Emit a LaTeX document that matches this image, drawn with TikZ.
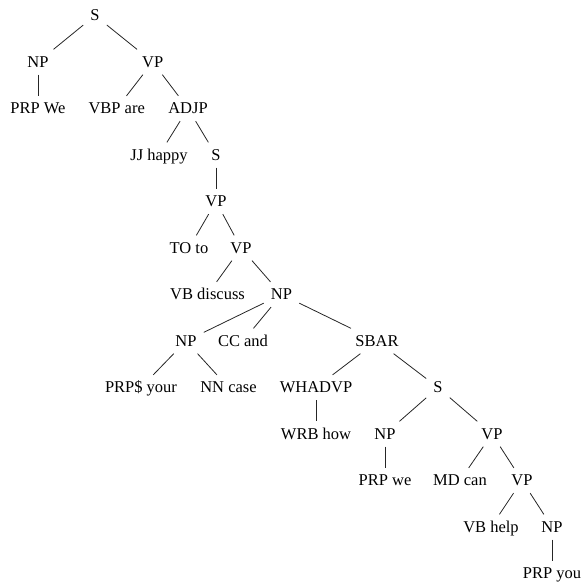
\documentclass[tikz,border=0pt]{standalone}
\usepackage{fontspec}
\setmainfont{Liberation Serif}
\begin{document}
\begin{tikzpicture}[x=1pt,y=-1pt,
  lbl/.style={inner xsep=7pt,inner ysep=7pt,text height=10.9pt,text depth=0pt,
    font=\fontsize{16.5}{19}\selectfont},
  br/.style={line width=0.8pt,draw=black!85}]
\useasboundingbox (0,0) rectangle (583,582);
% level rows
\def\ya{15.5}\def\yb{62}\def\yc{108.5}\def\yd{155}\def\ye{201.5}\def\yf{248}
\def\yg{294.5}\def\yh{341}\def\yi{387.5}\def\yj{434}\def\yk{480.5}\def\yl{527}\def\ym{573.5}
\node[lbl] (s0) at (95,\ya) {S};
\node[lbl] (np1) at (38,\yb) {NP};
\node[lbl] (vp1) at (152.7,\yb) {VP};
\node[lbl] (prpWe) at (38,\yc) {PRP We};
\node[lbl] (vbp) at (116.7,\yc) {VBP are};
\node[lbl] (adjp) at (188,\yc) {ADJP};
\node[lbl] (jj) at (159,\yd) {JJ happy};
\node[lbl] (s1) at (216,\yd) {S};
\node[lbl] (vp2) at (216,\ye) {VP};
\node[lbl] (to) at (189,\yf) {TO to};
\node[lbl] (vp3) at (241,\yf) {VP};
\node[lbl] (vb1) at (207.5,\yg) {VB discuss};
\node[lbl] (np2) at (281.5,\yg) {NP};
\node[lbl] (np3) at (186,\yh) {NP};
\node[lbl] (cc) at (243,\yh) {CC and};
\node[lbl] (sbar) at (377,\yh) {SBAR};
\node[lbl] (prps) at (141,\yi) {PRP\$ your};
\node[lbl] (nn) at (228.5,\yi) {NN case};
\node[lbl] (whadvp) at (316,\yi) {WHADVP};
\node[lbl] (s2) at (438,\yi) {S};
\node[lbl] (wrb) at (316,\yj) {WRB how};
\node[lbl] (np4) at (385,\yj) {NP};
\node[lbl] (vp4) at (492,\yj) {VP};
\node[lbl] (prpwe) at (385,\yk) {PRP we};
\node[lbl] (md) at (460,\yk) {MD can};
\node[lbl] (vp5) at (522,\yk) {VP};
\node[lbl] (vb2) at (491,\yl) {VB help};
\node[lbl] (np5) at (552,\yl) {NP};
\node[lbl] (prpyou) at (552,\ym) {PRP you};
% branches
\foreach \p/\c in {s0/np1,s0/vp1,np1/prpWe,vp1/vbp,vp1/adjp,adjp/jj,adjp/s1,
  s1/vp2,vp2/to,vp2/vp3,vp3/vb1,vp3/np2,np2/np3,np2/cc,np2/sbar,np3/prps,np3/nn,
  sbar/whadvp,sbar/s2,whadvp/wrb,s2/np4,s2/vp4,np4/prpwe,vp4/md,vp4/vp5,
  vp5/vb2,vp5/np5,np5/prpyou}
  \draw[br] (\p) -- (\c);
\end{tikzpicture}
\end{document}
